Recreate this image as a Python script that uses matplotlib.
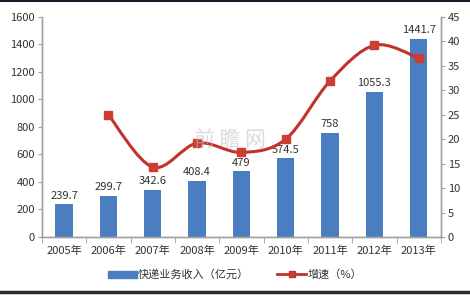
import numpy as np
import matplotlib.pyplot as plt
from matplotlib.path import Path
from matplotlib.patches import PathPatch
from matplotlib.lines import Line2D

plt.rcParams['font.family'] = ['Noto Sans CJK SC', 'DejaVu Sans']

years = ['2005年', '2006年', '2007年', '2008年', '2009年', '2010年', '2011年', '2012年', '2013年']
revenue = [239.7, 299.7, 342.6, 408.4, 479, 574.6, 758, 1055.3, 1441.7]
revenue_labels = ['239.7', '299.7', '342.6', '408.4', '479', '574.5', '758', '1055.3', '1441.7']
growth_years = years[1:]
growth = [25.0, 14.3, 19.2, 17.3, 20.0, 31.9, 39.2, 36.6]

bar_color = '#4A7EC0'
line_color = '#C0322B'
axis_gray = '#A0A0A0'
text_color = '#333333'

fig = plt.figure(figsize=(4.7, 2.97), dpi=100)
ax = fig.add_axes([0.089, 0.202, 0.849, 0.741])
ax2 = ax.twinx()

x = np.arange(len(years))
ax.bar(x, revenue, width=0.39, color=bar_color, zorder=2)
for xi, v, lab in zip(x, revenue, revenue_labels):
    ax.text(xi, v + 25, lab, ha='center', va='bottom', fontsize=8, color=text_color)

ax.set_xlim(-0.5, len(years) - 0.5)
ax.set_ylim(0, 1600)
ax.set_yticks(range(0, 1601, 200))
ax.set_xticks(x)
ax.set_xticklabels(years, fontsize=8, color=text_color)
ax.set_xticks(np.arange(-0.5, len(years), 1), minor=True)
ax.tick_params(axis='x', which='major', length=0, pad=6)
ax.tick_params(axis='x', which='minor', length=4, color=axis_gray, direction='out')
ax.tick_params(axis='y', labelsize=8, colors=text_color, length=3, color=axis_gray, pad=2)

# smoothed line (Catmull-Rom -> cubic Bezier) through the growth points
gx = x[1:]
pts = np.column_stack([gx, growth]).astype(float)
verts = [tuple(pts[0])]
codes = [Path.MOVETO]
for i in range(len(pts) - 1):
    p0 = pts[i - 1] if i > 0 else pts[i]
    p1 = pts[i]
    p2 = pts[i + 1]
    p3 = pts[i + 2] if i + 2 < len(pts) else pts[i + 1]
    c1 = p1 + (p2 - p0) / 6
    c2 = p2 - (p3 - p1) / 6
    verts += [tuple(c1), tuple(c2), tuple(p2)]
    codes += [Path.CURVE4] * 3
ax2.add_patch(PathPatch(Path(verts, codes), facecolor='none', edgecolor=line_color, lw=2.2, zorder=3))
ax2.plot(gx, growth, linestyle='none', marker='s', markersize=6, color='#CC3D33', zorder=4)

ax2.set_ylim(0, 45)
ax2.set_yticks(range(0, 46, 5))
ax2.tick_params(axis='y', labelsize=8, colors=text_color, length=3, color=axis_gray, pad=2)

for a in (ax, ax2):
    a.spines['top'].set_visible(False)
    for s in ('left', 'right', 'bottom'):
        a.spines[s].set_color(axis_gray)
        a.spines[s].set_linewidth(1)
ax.set_zorder(ax2.get_zorder() - 1)
ax2.patch.set_visible(False)

# faint watermark
fig.text(0.49, 0.53, '前 瞻 网', fontsize=15, color='#BDBDBD', alpha=0.55, ha='center', va='center')

handles = [
    plt.Rectangle((0, 0), 1, 1, color=bar_color),
    Line2D([], [], color=line_color, lw=2, marker='s', markersize=5, markerfacecolor='#CC3D33'),
]
fig.legend(handles, ['快递业务收入（亿元）', '增速（%）'], loc='center', bbox_to_anchor=(0.5, 0.075),
           ncol=2, frameon=False, fontsize=8, handlelength=2.6, handleheight=0.6, columnspacing=2.5,
           handletextpad=0.1, labelcolor=text_color)

# top / bottom border lines of the image
fig.add_artist(Line2D([0, 1], [0.995, 0.995], transform=fig.transFigure, color='#1A1A2A', lw=1.5))
fig.add_artist(Line2D([0, 1], [0.017, 0.017], transform=fig.transFigure, color='#2A2A2A', lw=2.5))

fig.savefig('out.png', dpi=100)
